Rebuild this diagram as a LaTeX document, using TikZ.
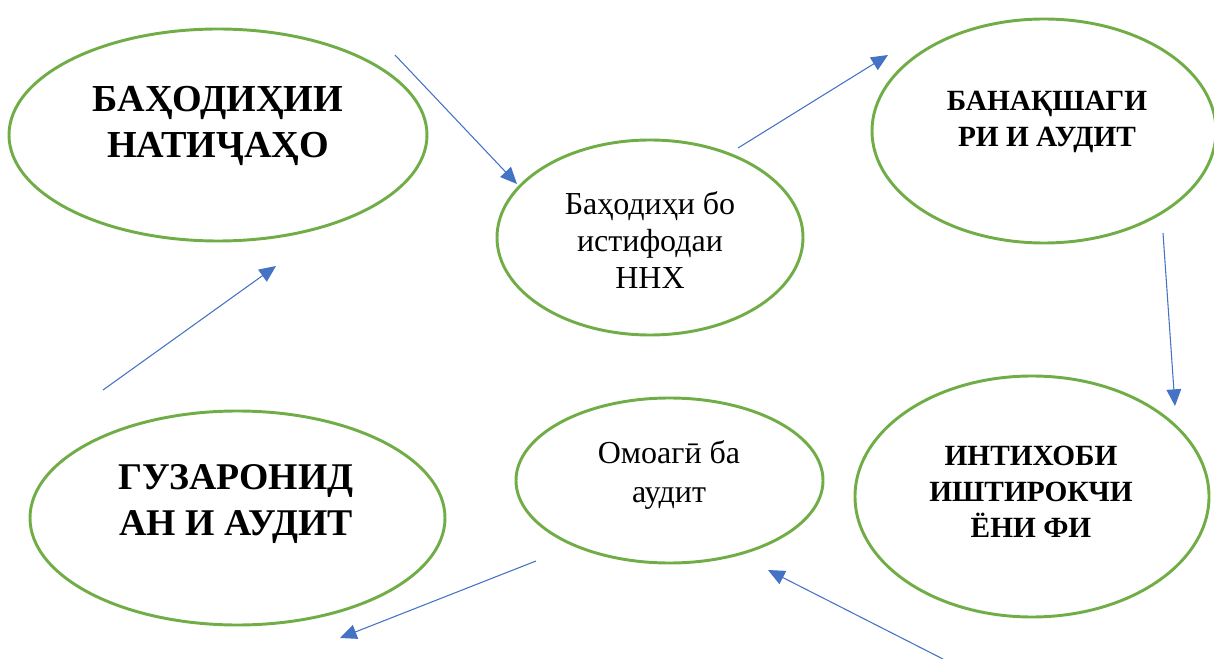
\documentclass[tikz,border=0pt]{standalone}
\usepackage{fontspec}
\setmainfont{Liberation Serif}
\usetikzlibrary{shapes.geometric,arrows.meta}
\definecolor{ogreen}{HTML}{70AD47}
\definecolor{oblue}{HTML}{4472C4}
\tikzset{
  oval/.style 2 args={ellipse,draw=ogreen,line width=2.2pt,inner sep=0pt,outer sep=0pt,
    minimum width=0.75*#1 pt,minimum height=0.75*#2 pt},
  lbl/.style={align=center,inner sep=0pt,anchor=center},
  conn/.style={draw=oblue,line width=0.8pt,-{Triangle[length=12.5pt,width=11pt]}}
}
\begin{document}
\begin{tikzpicture}[x=0.75pt,y=-0.75pt]
\useasboundingbox (0,0) rectangle (1214,659);
% ellipses
\node[oval={418}{212}] (e1) at (218,135) {};
\node[oval={306}{195}] (e2) at (650,237.5) {};
\node[oval={344}{224}] (e3) at (1044,131) {};
\node[oval={354}{241}] (e4) at (1032,496.5) {};
\node[oval={307}{165}] (e5) at (669.5,480.5) {};
\node[oval={415}{214}] (e6) at (237.5,518) {};
% labels
\node[lbl,font={\fontsize{28.6}{34}\selectfont\bfseries}] (t1) at (218,126) {БАҲОДИҲИИ\\НАТИҶАҲО};
\node[lbl,font={\fontsize{24}{27.75}\selectfont}] (t2) at (650,240.5) {Баҳодиҳи бо\\истифодаи\\ННХ};
\node[lbl,font={\fontsize{22}{27.5}\selectfont\bfseries}] (t3) at (1047,122) {БАНАҚШАГИ\\РИ И АУДИТ};
\node[lbl,font={\fontsize{22}{27}\selectfont\bfseries}] (t4) at (1031,492) {ИНТИХОБИ\\ИШТИРОКЧИ\\ЁНИ ФИ};
\node[lbl,font={\fontsize{24}{29}\selectfont}] (t5) at (669,475) {Омоагӣ ба\\аудит};
\node[lbl,font={\fontsize{28.3}{34.5}\selectfont\bfseries}] (t6) at (236,504) {ГУЗАРОНИД\\АН И АУДИТ};
% arrow endpoints
\coordinate (a1s) at (395,55);   \coordinate (a1e) at (517,184);
\coordinate (a2s) at (738,148);  \coordinate (a2e) at (888,55);
\coordinate (a3s) at (1163,233); \coordinate (a3e) at (1175,406);
\coordinate (a4s) at (943,659);  \coordinate (a4e) at (768,570);
\coordinate (a5s) at (536,561);  \coordinate (a5e) at (340,638);
\coordinate (a6s) at (103,390);  \coordinate (a6e) at (276,266);
\draw[conn] (a1s) -- (a1e);
\draw[conn] (a2s) -- (a2e);
\draw[conn] (a3s) -- (a3e);
\draw[conn] (a4s) -- (a4e);
\draw[conn] (a5s) -- (a5e);
\draw[conn] (a6s) -- (a6e);
\end{tikzpicture}
\end{document}
